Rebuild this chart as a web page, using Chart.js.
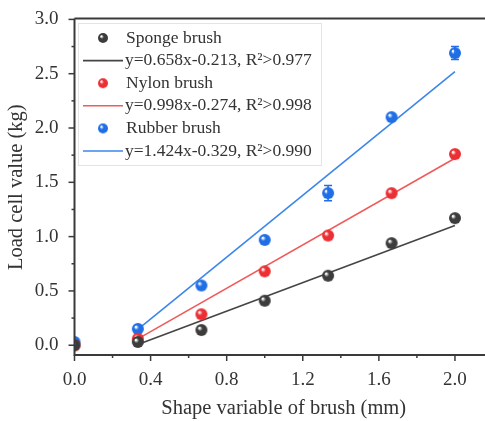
<!DOCTYPE html>
<html>
<head>
<meta charset="utf-8">
<script src="https://cdn.jsdelivr.net/npm/chart.js@4/dist/chart.umd.min.js"></script>
<style>
  html, body { margin: 0; padding: 0; background: #fff; overflow: hidden; }
  #wrap { width: 500px; height: 421px; }
</style>
</head>
<body>
<div id="wrap"><canvas id="chart" width="500" height="421"></canvas></div>
<script>
// --- DATA ---
const xValues = [0, 0.333, 0.667, 1.0, 1.333, 1.667, 2.0];
const spongeY = [0.0, 0.03, 0.14, 0.41, 0.64, 0.94, 1.17];
const nylonY = [0.0, 0.06, 0.285, 0.68, 1.01, 1.40, 1.76];
const rubberY = [0.03, 0.15, 0.55, 0.97, 1.40, 2.10, 2.69];
const spongeErr = [0.0, 0.01, 0.01, 0.02, 0.02, 0.02, 0.03];
const nylonErr = [0.0, 0.01, 0.02, 0.02, 0.02, 0.02, 0.03];
const rubberErr = [0.01, 0.02, 0.02, 0.02, 0.07, 0.02, 0.06];

// fitted line end points (x from 0.333 to 2.0)
const fitX = [0.333, 2.0];
const spongeFit = [0.006, 1.103];
const nylonFit = [0.058, 1.722];
const rubberFit = [0.145, 2.519];

const seriesNames = ['Sponge brush', 'Nylon brush', 'Rubber brush'];
const fitNames = ['y=0.658x-0.213, R²>0.977', 'y=0.998x-0.274, R²>0.998', 'y=1.424x-0.329, R²>0.990'];

const xTicks = [0, 0.4, 0.8, 1.2, 1.6, 2.0];
const yTicks = [0, 0.5, 1.0, 1.5, 2.0, 2.5, 3.0];

const COLORS = { sponge: '#3c3c3c', nylon: '#ec2f33', rubber: '#1f6ee6' };
const LINE_COLORS = { sponge: '#444444', nylon: '#ef5a5a', rubber: '#3d86ec' };
const FONT = '"Liberation Serif", "Times New Roman", serif';
const TEXT = '#333';

// --- HELPERS ---
function ball(color, r) {
    const c = document.createElement('canvas');
    c.width = c.height = r * 2 + 2;
    const ctx = c.getContext('2d');
    const cx = r + 1, cy = r + 1;
    const g = ctx.createRadialGradient(cx - r * 0.35, cy - r * 0.35, r * 0.1, cx, cy, r);
    g.addColorStop(0, '#ffffff');
    g.addColorStop(0.35, color);
    g.addColorStop(1, color);
    ctx.fillStyle = g;
    ctx.beginPath(); ctx.arc(cx, cy, r, 0, Math.PI * 2); ctx.fill();
    return c;
}

const pts = (ys) => xValues.map((x, i) => ({ x, y: ys[i] }));
const fit = (ys) => fitX.map((x, i) => ({ x, y: ys[i] }));

function pointSet(label, ys, errs, key) {
    return {
        label, data: pts(ys), errs, type: 'scatter',
        pointStyle: ball(COLORS[key], 6), pointRadius: 6, showLine: false,
        backgroundColor: COLORS[key], borderColor: COLORS[key], order: 1
    };
}
function lineSet(label, ys, key) {
    return {
        label, data: fit(ys), type: 'scatter', showLine: true, pointRadius: 0,
        borderColor: LINE_COLORS[key], borderWidth: 1.6, order: 2
    };
}

// --- PLUGINS ---
const errorBars = {
    id: 'errorBars',
    afterDatasetsDraw(chart) {
        const { ctx, scales: { x, y } } = chart;
        chart.data.datasets.forEach(ds => {
            if (!ds.errs) return;
            ctx.save();
            ctx.strokeStyle = ds.borderColor;
            ctx.lineWidth = 1.5;
            ds.data.forEach((p, i) => {
                const e = ds.errs[i];
                if (!e) return;
                const px = x.getPixelForValue(p.x);
                const top = y.getPixelForValue(p.y + e), bot = y.getPixelForValue(p.y - e);
                if (bot - top < 8) return;
                ctx.beginPath();
                ctx.moveTo(px, top); ctx.lineTo(px, bot);
                ctx.moveTo(px - 4, top); ctx.lineTo(px + 4, top);
                ctx.moveTo(px - 4, bot); ctx.lineTo(px + 4, bot);
                ctx.stroke();
            });
            ctx.restore();
        });
    }
};

const frame = {
    id: 'frame',
    afterDraw(chart) {
        const { ctx, chartArea: a, scales: { x, y } } = chart;
        ctx.save();
        ctx.strokeStyle = '#3a3a3a';
        ctx.lineWidth = 2;
        ctx.beginPath();
        ctx.moveTo(a.left, a.top - 1); ctx.lineTo(a.right + 10, a.top - 1);
        ctx.moveTo(a.left, a.top - 1); ctx.lineTo(a.left, a.bottom);
        ctx.lineTo(a.right + 10, a.bottom);
        ctx.stroke();
        ctx.lineWidth = 1.5;
        // x ticks, major + minor
        for (let v = 0; v <= 2.001; v += 0.2) {
            const px = x.getPixelForValue(v);
            const major = Math.abs(v / 0.4 - Math.round(v / 0.4)) < 0.01;
            ctx.beginPath(); ctx.moveTo(px, a.bottom); ctx.lineTo(px, a.bottom + (major ? 6 : 3)); ctx.stroke();
        }
        for (let v = 0; v <= 3.001; v += 0.25) {
            const py = y.getPixelForValue(v);
            const major = Math.abs(v / 0.5 - Math.round(v / 0.5)) < 0.01;
            ctx.beginPath(); ctx.moveTo(a.left, py); ctx.lineTo(a.left - (major ? 6 : 3), py); ctx.stroke();
        }
        ctx.restore();
    }
};

const legendBox = {
    id: 'legendBox',
    afterDraw(chart) {
        const { ctx } = chart;
        const left = 78, top = 23, w = 243, h = 142;
        ctx.save();
        ctx.fillStyle = '#fff';
        ctx.fillRect(left, top, w, h);
        ctx.strokeStyle = '#e4e4e4';
        ctx.lineWidth = 1;
        ctx.strokeRect(left + 0.5, top + 0.5, w, h);
        ctx.font = '17.5px ' + FONT;
        ctx.fillStyle = TEXT;
        ctx.textBaseline = 'middle';
        const keys = ['sponge', 'nylon', 'rubber'];
        let row = top + 15;
        keys.forEach((k, i) => {
            ctx.drawImage(ball(COLORS[k], 5), 103 - 6, row - 6);
            ctx.fillStyle = TEXT;
            ctx.fillText(seriesNames[i], 126, row);
            row += 22.6;
            ctx.strokeStyle = LINE_COLORS[k];
            ctx.lineWidth = 1.6;
            ctx.beginPath(); ctx.moveTo(83, row); ctx.lineTo(123, row); ctx.stroke();
            ctx.fillText(fitNames[i], 125, row);
            row += 22.6;
        });
        ctx.restore();
    }
};

// --- CHART ---
new Chart(document.getElementById('chart'), {
    type: 'scatter',
    data: {
        datasets: [
            lineSet(fitNames[0], spongeFit, 'sponge'),
            lineSet(fitNames[1], nylonFit, 'nylon'),
            lineSet(fitNames[2], rubberFit, 'rubber'),
            pointSet(seriesNames[0], spongeY, spongeErr, 'sponge'),
            pointSet(seriesNames[1], nylonY, nylonErr, 'nylon'),
            pointSet(seriesNames[2], rubberY, rubberErr, 'rubber')
        ]
    },
    options: {
        responsive: false,
        animation: false,
        layout: { padding: { top: 18, right: 7, left: 0, bottom: 0 } },
        plugins: { legend: { display: false }, tooltip: { enabled: false } },
        scales: {
            x: {
                type: 'linear', min: 0, max: 2.2,
                afterBuildTicks: s => { s.ticks = xTicks.map(v => ({ value: v })); },
                afterFit: s => { s.height = 66; },
                grid: { display: false }, border: { display: false },
                ticks: { color: TEXT, font: { family: FONT, size: 19 }, padding: 6, maxRotation: 0,
                         callback: v => v.toFixed(1) },
                title: { display: true, text: 'Shape variable of brush (mm)', color: TEXT,
                         font: { family: FONT, size: 20.5 }, padding: { top: 4, bottom: 0 } }
            },
            y: {
                type: 'linear', min: -0.09, max: 3.0,
                afterBuildTicks: s => { s.ticks = yTicks.map(v => ({ value: v })); },
                afterFit: s => { s.width = 74.5; },
                grid: { display: false }, border: { display: false },
                ticks: { color: TEXT, font: { family: FONT, size: 19 }, padding: 8,
                         callback: v => v.toFixed(1) },
                title: { display: true, text: 'Load cell value (kg)', color: TEXT,
                         font: { family: FONT, size: 20.5 }, padding: { top: 4, bottom: 0 } }
            }
        }
    },
    plugins: [errorBars, frame, legendBox]
});
</script>
</body>
</html>
